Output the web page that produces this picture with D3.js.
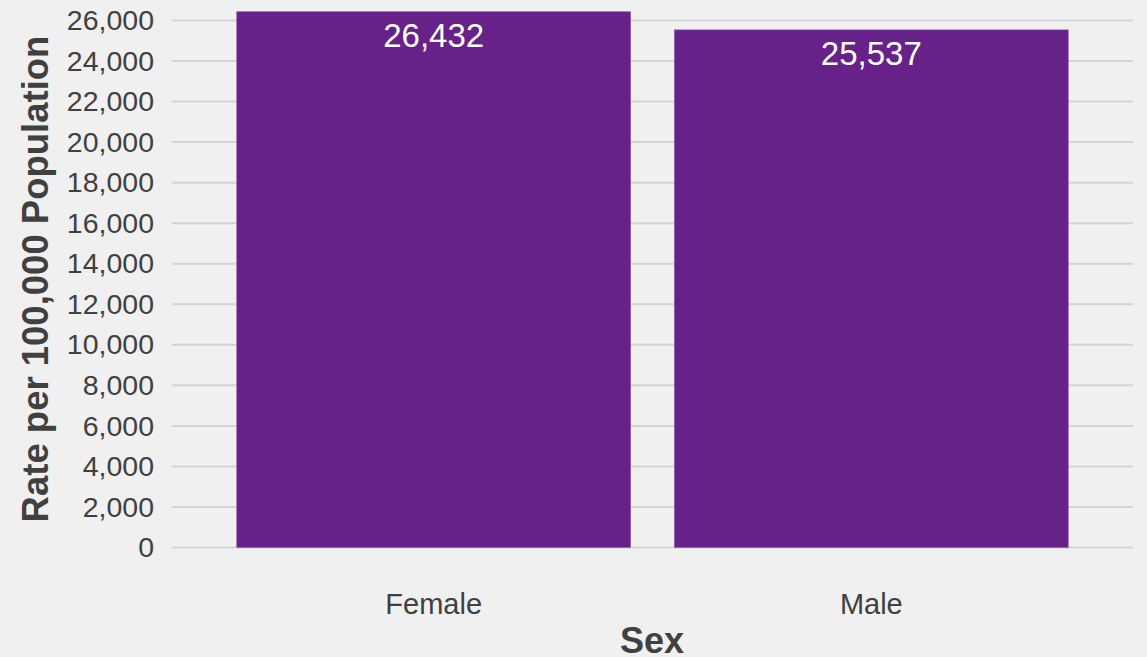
<!DOCTYPE html>
<html>
<head>
<meta charset="utf-8">
<script src="https://cdn.jsdelivr.net/npm/d3@7"></script>
<style>
  html, body { margin: 0; padding: 0; background: #f0f0f0; }
  svg { display: block; font-family: "Liberation Sans", Arial, sans-serif; }
</style>
</head>
<body>
<script>
const categories = ["Female", "Male"]
const rates = [26432, 25537]
const yTicks = d3.range(0, 26001, 2000)

const width = 1147
const height = 657
const margin = { top: 20.5, right: 14, bottom: 109.5, left: 172 }

const svg = d3.select("body")
  .append("svg")
  .attr("width", width)
  .attr("height", height)

svg.append("rect")
  .attr("width", width)
  .attr("height", height)
  .style("fill", "#f0f0f0")

const x = d3.scaleBand()
  .domain(categories)
  .range([margin.left, width - margin.right])
  .paddingInner(0.1)
  .paddingOuter(0.148)

const y = d3.scaleLinear()
  .domain([0, 26000])
  .range([height - margin.bottom, margin.top])

// gridlines
svg.append("g")
  .selectAll("line")
  .data(yTicks)
  .enter()
  .append("line")
  .attr("x1", margin.left)
  .attr("x2", width - margin.right)
  .attr("y1", d => y(d))
  .attr("y2", d => y(d))
  .style("stroke", "#d4d4d4")
  .style("stroke-width", 2)

// y axis labels
const yAxis = svg.append("g")
  .attr("transform", `translate(${margin.left}, 0)`)
  .call(d3.axisLeft(y).tickValues(yTicks).tickFormat(d3.format(",")).tickSize(0).tickPadding(18))
yAxis.select(".domain").remove()
yAxis.selectAll("text")
  .style("font-size", "28.5px")
  .style("fill", "#404040")
  .style("font-family", "Liberation Sans, Arial, sans-serif")

// bars
svg.append("g")
  .selectAll("rect")
  .data(categories)
  .enter()
  .append("rect")
  .attr("x", d => x(d))
  .attr("width", x.bandwidth())
  .attr("y", (d, i) => y(rates[i]))
  .attr("height", (d, i) => y(0) - y(rates[i]))
  .style("fill", "#67228a")
  .style("stroke", "#8a55a8")
  .style("stroke-width", 0.6)

// value labels
svg.append("g")
  .selectAll("text")
  .data(categories)
  .enter()
  .append("text")
  .attr("x", d => x(d) + x.bandwidth() / 2)
  .attr("y", (d, i) => y(rates[i]) + 35)
  .attr("text-anchor", "middle")
  .style("font-size", "33px")
  .style("fill", "#ffffff")
  .text((d, i) => d3.format(",")(rates[i]))

// x axis labels
const xAxis = svg.append("g")
  .attr("transform", `translate(0, ${y(0)})`)
  .call(d3.axisBottom(x).tickSize(0).tickPadding(46))
xAxis.select(".domain").remove()
xAxis.selectAll("text")
  .style("font-size", "29px")
  .style("fill", "#404040")
  .style("font-family", "Liberation Sans, Arial, sans-serif")

// axis titles
svg.append("text")
  .attr("x", 652)
  .attr("y", 653)
  .attr("text-anchor", "middle")
  .style("font-size", "36px")
  .style("font-weight", "bold")
  .style("fill", "#404040")
  .text("Sex")

svg.append("text")
  .attr("transform", `translate(48, 279) rotate(-90)`)
  .attr("text-anchor", "middle")
  .style("font-size", "36.5px")
  .style("font-weight", "bold")
  .style("fill", "#404040")
  .text("Rate per 100,000 Population")
</script>
</body>
</html>
